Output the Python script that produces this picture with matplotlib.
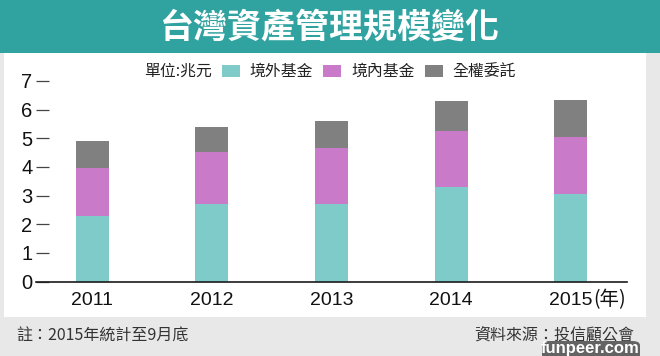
import matplotlib
matplotlib.use("Agg")
import matplotlib.pyplot as plt
from matplotlib.patches import Rectangle, FancyBboxPatch
import matplotlib.transforms as mtransforms

plt.rcParams['font.family'] = ['Liberation Sans', 'Noto Sans CJK TC', 'DejaVu Sans']

# ---- data ----
years = ["2011", "2012", "2013", "2014", "2015"]
overseas = [2.27, 2.69, 2.72, 3.30, 3.05]      # 境外基金
domestic = [1.68, 1.83, 1.94, 1.96, 1.98]      # 境內基金
discretionary = [0.95, 0.86, 0.96, 1.04, 1.32] # 全權委託
series_names = ["境外基金", "境內基金", "全權委託"]
yticks = [0, 1, 2, 3, 4, 5, 6, 7]

title = "台灣資產管理規模變化"
unit_text = "單位:兆元"
note_text = "註：2015年統計至9月底"
source_text = "資料來源：投信顧公會"

colors = ["#7ecbc9", "#c97ac9", "#808080"]
W, H = 660, 356

fig = plt.figure(figsize=(6.6, 3.56), dpi=100, facecolor="#e8e8e8")

def fx(px):
    return px / W

def fy(py):
    return (H - py) / H

# panels
fig.patches.append(Rectangle((fx(4), fy(316.7)), fx(646) - fx(4), fy(52.7) - fy(316.7),
                             transform=fig.transFigure, facecolor="white", edgecolor="none", zorder=-2))
fig.patches.append(Rectangle((0, fy(52.7)), 1, 1 - fy(52.7),
                             transform=fig.transFigure, facecolor="#30a3a1", edgecolor="none", zorder=-2))
fig.text(0.5, fy(27.5), title, ha="center", va="center", color="white",
         fontsize=24.5, fontweight="bold", family=['Noto Sans CJK TC', 'DejaVu Sans'])

ax = fig.add_axes([fx(36), fy(281.5), fx(627) - fx(36), fy(81) - fy(281.5)])
ax.set_facecolor("none")
ax.set_zorder(2)

x = list(range(len(years)))
bw = 0.276
b1 = ax.bar(x, overseas, width=bw, color=colors[0], label=series_names[0])
bottom2 = overseas
b2 = ax.bar(x, domestic, width=bw, bottom=bottom2, color=colors[1], label=series_names[1])
bottom3 = [a + b for a, b in zip(overseas, domestic)]
b3 = ax.bar(x, discretionary, width=bw, bottom=bottom3, color=colors[2], label=series_names[2])

ax.set_xlim(-0.47, len(years) - 1 + 0.47)
ax.set_ylim(0, 7)
ax.set_yticks(yticks)
ax.set_yticklabels([str(v) for v in yticks])
ax.set_xticks(x)
ax.set_xticklabels(years)

for s in ["top", "right", "left"]:
    ax.spines[s].set_visible(False)
ax.spines["bottom"].set_color("#1a1a1a")
ax.spines["bottom"].set_linewidth(1.2)

ax.tick_params(axis="y", direction="in", length=9.5, width=0.9, color="#444444",
               pad=2.5, labelsize=14.5, labelcolor="#111111")
ax.tick_params(axis="x", length=0, pad=7.5, labelsize=14, labelcolor="#111111")

# "(年)" appended after the last year label
offset = mtransforms.offset_copy(ax.get_xaxis_transform(), fig=fig, x=22, y=0, units="dots")
ax.text(len(years) - 1, -0.09, "(年)", transform=offset, ha="left", va="center",
        fontsize=14, color="#111111", family=['Noto Sans CJK TC', 'DejaVu Sans'])

# legend
fig.text(fx(212), fy(71.7), unit_text, ha="right", va="center", fontsize=11.4,
         color="#222222", family=['Noto Sans CJK TC', 'DejaVu Sans'])
leg = fig.legend(handles=[b1, b2, b3], labels=series_names, loc="center left",
                 bbox_to_anchor=(fx(221.5), fy(71.7)), ncol=3, frameon=False,
                 handlelength=1.16, handleheight=0.78,
                 handletextpad=0.62, columnspacing=0.62, borderpad=0, borderaxespad=0,
                 prop={'family': ['Noto Sans CJK TC', 'DejaVu Sans'], 'size': 11.4})
for t in leg.get_texts():
    t.set_color("#222222")

# footer
fig.text(fx(16), fy(336), note_text, ha="left", va="center", fontsize=11.5,
         color="#333333", family=['Noto Sans CJK TC', 'DejaVu Sans'])
fig.text(fx(634), fy(335), source_text, ha="right", va="center", fontsize=11.5,
         color="#333333", family=['Noto Sans CJK TC', 'DejaVu Sans'])

# watermark
fig.patches.append(FancyBboxPatch((fx(542), fy(362)), fx(640) - fx(542), fy(341) - fy(362),
                                  boxstyle="round,pad=0,rounding_size=0.012",
                                  transform=fig.transFigure, facecolor="#555555",
                                  edgecolor="none", alpha=0.9, zorder=5))
fig.text(fx(590), fy(349), "funpeer.com", ha="center", va="center", fontsize=12,
         fontweight="bold", color="white", zorder=6, family=['Liberation Sans'])

fig.savefig("out.png", dpi=100, facecolor=fig.get_facecolor())
